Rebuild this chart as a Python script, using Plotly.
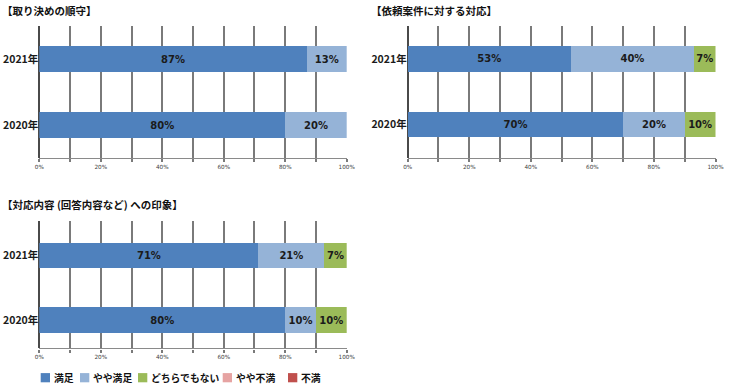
import plotly.graph_objects as go

# ---------------- data ----------------
years = ["2020年", "2021年"]
series_names = ["満足", "やや満足", "どちらでもない", "やや不満", "不満"]
series_colors = ["#4F81BD", "#95B3D7", "#9BBB59", "#E6A3A2", "#C0504D"]

titles = ["【取り決めの順守】", "【依頼案件に対する対応】", "【対応内容 (回答内容など) への印象】"]

# values per panel: [2020, 2021] for each series
p1_manzoku      = [80, 87]
p1_yaya_manzoku = [20, 13]
p1_dochira      = [0, 0]
p1_yaya_fuman   = [0, 0]
p1_fuman        = [0, 0]

p2_manzoku      = [70, 53]
p2_yaya_manzoku = [20, 40]
p2_dochira      = [10, 7]
p2_yaya_fuman   = [0, 0]
p2_fuman        = [0, 0]

p3_manzoku      = [80, 71.3]
p3_yaya_manzoku = [10, 21.4]
p3_dochira      = [10, 7.3]
p3_yaya_fuman   = [0, 0]
p3_fuman        = [0, 0]

tick_vals = [0, 10, 20, 30, 40, 50, 60, 70, 80, 90, 100]
tick_text = ["0%", "", "20%", "", "40%", "", "60%", "", "80%", "", "100%"]

panels = [
    [p1_manzoku, p1_yaya_manzoku, p1_dochira, p1_yaya_fuman, p1_fuman],
    [p2_manzoku, p2_yaya_manzoku, p2_dochira, p2_yaya_fuman, p2_fuman],
    [p3_manzoku, p3_yaya_manzoku, p3_dochira, p3_yaya_fuman, p3_fuman],
]

# ---------------- layout geometry (pixels) ----------------
W, H = 730, 389
def fx(x): return x / W
def fy(y): return 1 - y / H

geo = [
    dict(x0=39.3, x1=346.7, top=26.0, bottom=158.0, yr=[-0.5, 1.5], tx=0.0, ty=11),
    dict(x0=407.7, x1=715.5, top=26.0, bottom=157.5, yr=[-0.5, 1.5], tx=369.0, ty=11),
    dict(x0=39.3, x1=346.7, top=221.0, bottom=348.3, yr=[-0.44, 1.54], tx=0.0, ty=204),
]

NUM_FONT = "DejaVu Sans, Noto Sans CJK JP"
JP_FONT = "Noto Sans CJK JP, DejaVu Sans"

fig = go.Figure()
layout = dict(
    width=W, height=H, margin=dict(l=0, r=0, t=0, b=0, autoexpand=False),
    paper_bgcolor="white", plot_bgcolor="white",
    barmode="stack", showlegend=False,
    uniformtext=dict(minsize=10, mode="show"),
)

annotations = []
shapes = []
for i, (vals, g) in enumerate(zip(panels, geo)):
    xa = "x" if i == 0 else f"x{i+1}"
    ya = "y" if i == 0 else f"y{i+1}"
    for name, color, v in zip(series_names, series_colors, vals):
        fig.add_trace(go.Bar(
            y=years, x=v, orientation="h", name=name,
            marker=dict(color=color, line=dict(width=0)),
            width=0.39,
            text=[f"{round(val)}%" if val > 0 else "" for val in v],
            textposition="inside", insidetextanchor="middle", textangle=0,
            textfont=dict(family=NUM_FONT, size=10, color="#1b1b1b", weight="bold"),
            hoverinfo="skip", xaxis=xa, yaxis=ya,
        ))
    xkey = "xaxis" if i == 0 else f"xaxis{i+1}"
    ykey = "yaxis" if i == 0 else f"yaxis{i+1}"
    layout[xkey] = dict(
        domain=[fx(g["x0"]), fx(g["x1"])], anchor=ya, range=[0, 100],
        automargin=False,
        tickvals=tick_vals, ticktext=tick_text, showgrid=True,
        gridcolor="#7a7a7a", gridwidth=1.6,
        zeroline=True, zerolinecolor="#4a4a4a", zerolinewidth=1.6,
        showline=True, linecolor="#8a8a8a", linewidth=1.4,
        ticks="outside", ticklen=3, tickcolor="#7a7a7a", tickwidth=1.6,
        tickfont=dict(family=NUM_FONT, size=5.7, color="#404040"),
        fixedrange=True,
    )
    layout[ykey] = dict(
        domain=[fy(g["bottom"]), fy(g["top"])], anchor=xa, range=g["yr"],
        automargin=False,
        type="category", categoryorder="array", categoryarray=years,
        showgrid=False, zeroline=False, showline=False, ticks="",
        tickfont=dict(family=JP_FONT, size=10.5, color="#1b1b1b", weight="bold"),
        ticklabelstandoff=0, fixedrange=True,
    )
    annotations.append(dict(
        text=titles[i], xref="paper", yref="paper", x=fx(g["tx"]), y=fy(g["ty"]),
        xanchor="left", yanchor="middle", showarrow=False,
        font=dict(family=JP_FONT, size=10.5, color="#111111", weight="bold"),
    ))

# manual legend
leg_sq = [40.7, 80.0, 138.0, 222.7, 288.0]
leg_y = 377.7
for name, color, sx in zip(series_names, series_colors, leg_sq):
    shapes.append(dict(type="rect", xref="paper", yref="paper",
                       x0=fx(sx), x1=fx(sx + 9.3), y0=fy(leg_y + 4.6), y1=fy(leg_y - 4.6),
                       fillcolor=color, line=dict(width=0)))
    annotations.append(dict(
        text=name, xref="paper", yref="paper", x=fx(sx + 10.8), y=fy(leg_y),
        xanchor="left", yanchor="middle", showarrow=False,
        font=dict(family=JP_FONT, size=9.8, color="#111111", weight="bold"),
    ))

layout["annotations"] = annotations
layout["shapes"] = shapes
fig.update_layout(**layout)
fig.write_html(
    "out.html",
    config={"displayModeBar": False},
    post_script="document.body.style.margin='0';document.body.style.padding='0';",
)
